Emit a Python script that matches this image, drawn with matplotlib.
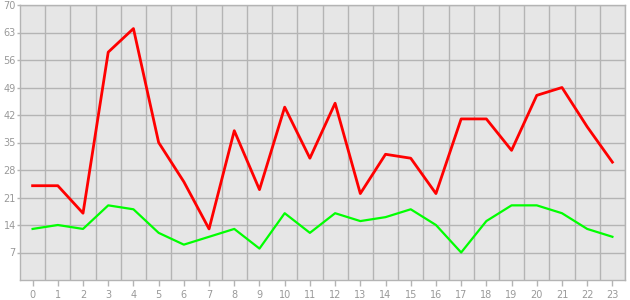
import matplotlib
matplotlib.use('Agg')
import matplotlib.pyplot as plt

hours = list(range(24))
red_values = [24, 24, 17, 58, 64, 35, 25, 13, 38, 23, 44, 31, 45, 22, 32, 31,
              22, 41, 41, 33, 47, 49, 39, 30]
green_values = [13, 14, 13, 19, 18, 12, 9, 11, 13, 8, 17, 12, 17, 15, 16, 18,
                14, 7, 15, 19, 19, 17, 13, 11]
y_ticks = [7, 14, 21, 28, 35, 42, 49, 56, 63, 70]

grid_color = '#b4b4b4'
label_color = '#999999'

fig = plt.figure(figsize=(6.3, 3.0), dpi=100)
ax = fig.add_axes([20 / 630, 20 / 300, 605 / 630, 275 / 300])
ax.set_facecolor('#e6e6e6')

ax.plot(hours, red_values, color='#ff0000', linewidth=2, zorder=3)
ax.plot(hours, green_values, color='#00ff00', linewidth=1.6, zorder=3)

ax.set_xlim(-0.5, 23.5)
ax.set_ylim(0, 70)
ax.set_xticks(hours)
ax.set_xticklabels([str(h) for h in hours])
ax.set_yticks(y_ticks)

# vertical grid lines sit between the categories
for b in range(24):
    ax.axvline(b + 0.5, color=grid_color, linewidth=1, zorder=1)
ax.yaxis.grid(True, color=grid_color, linewidth=1, zorder=1)
ax.set_axisbelow(True)

for s in ax.spines.values():
    s.set_color(grid_color)
    s.set_linewidth(1)

ax.tick_params(axis='both', colors=grid_color, labelcolor=label_color,
               labelsize=7, width=1)
ax.tick_params(axis='y', length=2, pad=1)
ax.tick_params(axis='x', length=4, pad=3)

fig.savefig('out.png', dpi=100)
